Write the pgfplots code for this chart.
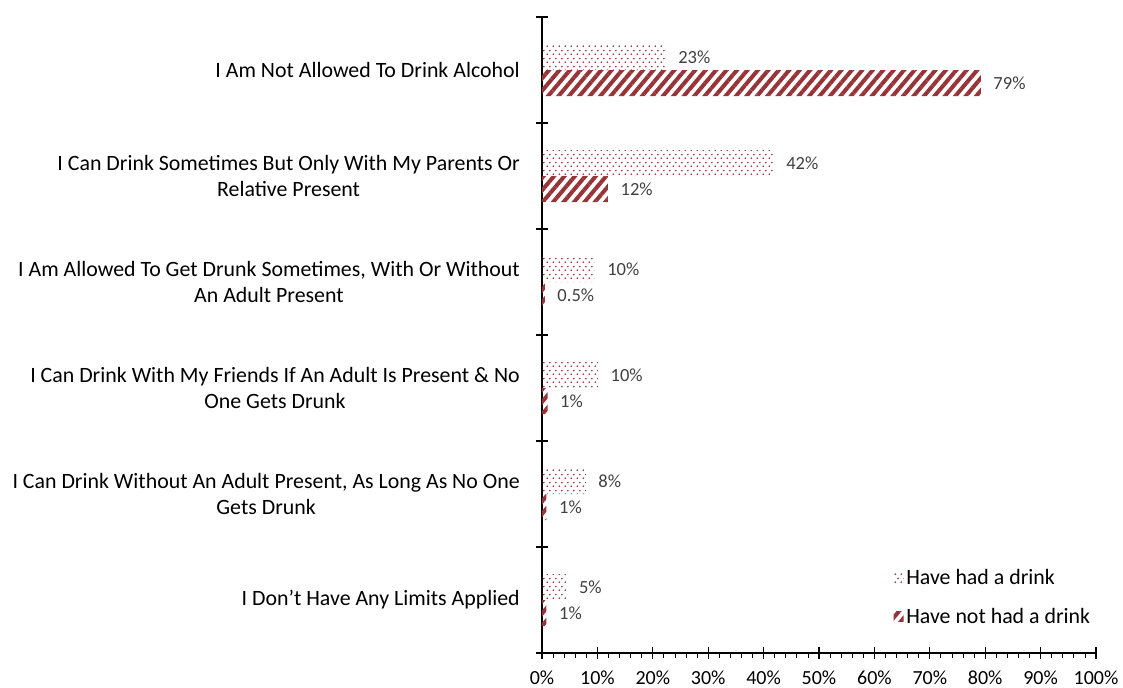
\documentclass[border=0pt]{standalone}
\usepackage{pgfplots}
\pgfplotsset{compat=1.18}
\usepackage{pgfplotstable}
\usetikzlibrary{patterns,patterns.meta}
\usepackage{fontspec}
\setmainfont{Carlito}
\definecolor{barred}{RGB}{150,52,56}
\definecolor{valgray}{RGB}{64,64,64}
\tikzdeclarepattern{
  name=mydots,
  type=uncolored,
  bottom left={(0pt,0pt)},
  top right={(4.5pt,6pt)},
  tile size={(4.5pt,6pt)},
  code={
    \fill (1.125pt,1.5pt) circle (0.8pt);
    \fill (3.375pt,4.5pt) circle (0.8pt);
  }
}
\pgfplotstableread{
y x lab
6 22.3 23\%
5 41.8 42\%
4 9.5 10\%
3 10.1 10\%
2 7.9 8\%
1 4.4 5\%
}\had
\pgfplotstableread{
y x lab
6 79.2 79\%
5 11.9 12\%
4 0.5 0.5\%
3 1.0 1\%
2 0.8 1\%
1 0.8 1\%
}\nothad
\begin{document}
\begin{tikzpicture}
\path[use as bounding box] (-406.5pt,-25.5pt) rectangle (435.75pt,489.75pt);
\begin{axis}[
  at={(0,0)}, anchor=origin,
  scale only axis,
  width=415.5pt, height=477pt,
  xmin=0, xmax=100, ymin=0.5, ymax=6.5,
  axis lines*=left,
  axis line style={black, line width=0.9pt},
  xbar, bar width=19.5pt,
  xtick={0,10,...,100},
  minor x tick num=4,
  xticklabel={\pgfmathprintnumber{\tick}\%},
  /pgf/number format/assume math mode=true,
  tick align=center,
  major tick length=9pt,
  minor tick length=3.5pt,
  tick style={black, line width=0.9pt},
  minor x tick style={yshift=-1.75pt, line width=0.6pt},
  xticklabel style={font=\fontsize{15pt}{17pt}\selectfont, yshift=-5pt},
  ytick={0.5,1.5,...,6.5},
  yticklabels={},
  extra y ticks={1,2,3,4,5,6},
  extra y tick labels={
    {I Don’t Have Any Limits Applied},
    {I Can Drink Without An Adult Present, As Long As No One\\Gets Drunk},
    {I Can Drink With My Friends If An Adult Is Present \& No\\One Gets Drunk},
    {I Am Allowed To Get Drunk Sometimes, With Or Without\\An Adult Present},
    {I Can Drink Sometimes But Only With My Parents Or\\Relative Present},
    {I Am Not Allowed To Drink Alcohol}},
  extra y tick style={major tick length=0pt, tick style={draw=none},
    yticklabel style={align=center, inner sep=0pt, xshift=-16.5pt,
      font=\fontsize{16.4pt}{20.2pt}\selectfont}},
  point meta=explicit symbolic,
  nodes near coords,
  nodes near coords style={anchor=west, xshift=6pt, text=valgray,
    font=\fontsize{13.9pt}{15pt}\selectfont},
  legend style={draw=none, fill=none, at={(0.627,0.14)}, anchor=north west,
    font=\fontsize{16.4pt}{18pt}\selectfont, row sep=12pt,
    legend cell align=left},
  legend image code/.code={\fill[#1] (0pt,-3.75pt) rectangle (7.5pt,3.75pt);},
]
\addplot[draw=none, pattern=mydots, pattern color=barred, bar shift=9.75pt]
  table[x=x, y=y, meta=lab] {\had};
\addlegendentry{Have had a drink}
\addplot[draw=none, pattern={Lines[angle=50,distance=6pt,line width=3pt]}, pattern color=barred, bar shift=-9.75pt]
  table[x=x, y=y, meta=lab] {\nothad};
\addlegendentry{Have not had a drink}
\end{axis}
\end{tikzpicture}
\end{document}
